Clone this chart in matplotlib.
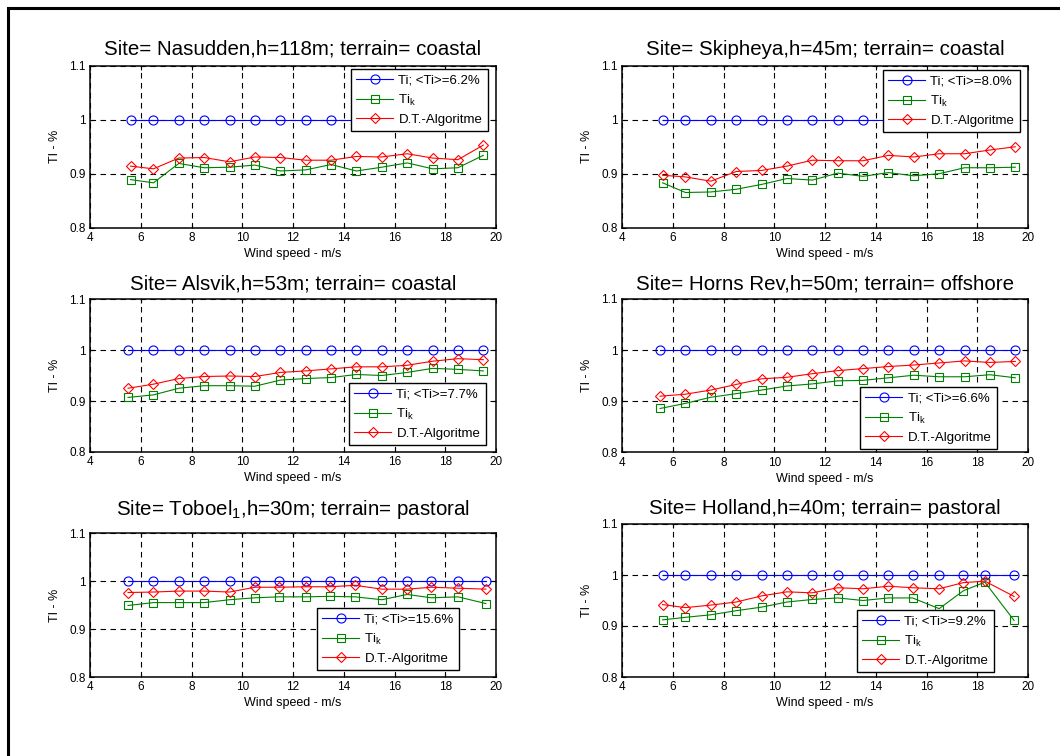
import matplotlib
matplotlib.use('Agg')
import matplotlib.pyplot as plt

plt.rcParams['font.family'] = ['Liberation Sans', 'DejaVu Sans']
plt.rcParams['mathtext.fontset'] = 'custom'
plt.rcParams['mathtext.rm'] = 'Liberation Sans'
plt.rcParams['mathtext.default'] = 'regular'

#------数据-----
# 每个站点: 风速, Ti(归一化), Ti_k, D.T.-Algoritme
titles = ['Site= Nasudden,h=118m; terrain= coastal',
          'Site= Skipheya,h=45m; terrain= coastal',
          'Site= Alsvik,h=53m; terrain= coastal',
          'Site= Horns Rev,h=50m; terrain= offshore',
          'Site= Toboel$_1$,h=30m; terrain= pastoral',
          'Site= Holland,h=40m; terrain= pastoral']
ti_mean = ['6.2%', '8.0%', '7.7%', '6.6%', '15.6%', '9.2%']

ws_nasudden = [5.6, 6.5, 7.5, 8.5, 9.5, 10.5, 11.5, 12.5, 13.5, 14.5, 15.5, 16.5, 17.5, 18.5, 19.5]
ws_skipheya = [5.6, 6.5, 7.5, 8.5, 9.5, 10.5, 11.5, 12.5, 13.5, 14.5, 15.5, 16.5, 17.5, 18.5, 19.5]
ws_alsvik = [5.5, 6.5, 7.5, 8.5, 9.5, 10.5, 11.5, 12.5, 13.5, 14.5, 15.5, 16.5, 17.5, 18.5, 19.5]
ws_hornsrev = [5.5, 6.5, 7.5, 8.5, 9.5, 10.5, 11.5, 12.5, 13.5, 14.5, 15.5, 16.5, 17.5, 18.5, 19.5]
ws_toboel = [5.5, 6.5, 7.5, 8.5, 9.5, 10.5, 11.45, 12.5, 13.45, 14.45, 15.5, 16.5, 17.45, 18.5, 19.6]
ws_holland = [5.6, 6.5, 7.5, 8.5, 9.5, 10.5, 11.5, 12.5, 13.5, 14.5, 15.45, 16.5, 17.45, 18.3, 19.45]

ti_ref = [1.0, 1.0, 1.0, 1.0, 1.0, 1.0, 1.0, 1.0, 1.0, 1.0, 1.0, 1.0, 1.0, 1.0, 1.0]

tik_nasudden = [0.889, 0.883, 0.919, 0.911, 0.912, 0.916, 0.905, 0.907, 0.917, 0.905, 0.912, 0.920, 0.909, 0.911, 0.934]
dt_nasudden = [0.914, 0.909, 0.929, 0.930, 0.922, 0.931, 0.930, 0.925, 0.925, 0.932, 0.931, 0.937, 0.929, 0.926, 0.953]

tik_skipheya = [0.883, 0.865, 0.866, 0.871, 0.880, 0.891, 0.888, 0.901, 0.895, 0.902, 0.896, 0.900, 0.911, 0.911, 0.912]
dt_skipheya = [0.897, 0.894, 0.886, 0.904, 0.906, 0.914, 0.925, 0.924, 0.924, 0.934, 0.931, 0.937, 0.937, 0.944, 0.950]

tik_alsvik = [0.907, 0.912, 0.925, 0.930, 0.930, 0.929, 0.941, 0.944, 0.946, 0.952, 0.950, 0.956, 0.964, 0.962, 0.959]
dt_alsvik = [0.925, 0.933, 0.944, 0.948, 0.949, 0.948, 0.956, 0.959, 0.963, 0.967, 0.967, 0.970, 0.978, 0.983, 0.981]

tik_hornsrev = [0.886, 0.896, 0.908, 0.915, 0.922, 0.930, 0.934, 0.940, 0.941, 0.946, 0.951, 0.948, 0.948, 0.952, 0.946]
dt_hornsrev = [0.910, 0.914, 0.922, 0.933, 0.944, 0.947, 0.954, 0.960, 0.964, 0.968, 0.971, 0.975, 0.979, 0.976, 0.978]

tik_toboel = [0.949, 0.955, 0.955, 0.955, 0.961, 0.965, 0.967, 0.967, 0.968, 0.967, 0.961, 0.972, 0.965, 0.967, 0.953]
dt_toboel = [0.976, 0.977, 0.979, 0.979, 0.977, 0.987, 0.987, 0.988, 0.988, 0.991, 0.983, 0.983, 0.987, 0.985, 0.983]

tik_holland = [0.912, 0.917, 0.922, 0.930, 0.937, 0.947, 0.952, 0.955, 0.950, 0.955, 0.955, 0.934, 0.969, 0.986, 0.911]
dt_holland = [0.942, 0.936, 0.941, 0.947, 0.959, 0.967, 0.965, 0.975, 0.973, 0.978, 0.975, 0.973, 0.985, 0.988, 0.958]

ws_all = [ws_nasudden, ws_skipheya, ws_alsvik, ws_hornsrev, ws_toboel, ws_holland]
tik_all = [tik_nasudden, tik_skipheya, tik_alsvik, tik_hornsrev, tik_toboel, tik_holland]
dt_all = [dt_nasudden, dt_skipheya, dt_alsvik, dt_hornsrev, dt_toboel, dt_holland]

xticks = [4, 6, 8, 10, 12, 14, 16, 18, 20]
yticks = [0.8, 0.9, 1.0, 1.1]
ytick_labels = ['0.8', '0.9', '1', '1.1']

#------布局(像素)-----
W, H = 1060, 756
# left, top, bottom (像素)
boxes = [(90, 66, 227.5), (622, 66, 227.5),
         (90, 299, 452), (622, 299, 452.5),
         (90, 533, 677), (622, 524, 677)]
legpos = [(351, 69), (883, 70), (349, 383), (860, 387), (317, 608), (857, 610)]
title_pad = [8, 8, 7, 7, 13, 7]

fig = plt.figure(figsize=(W / 100, H / 100), dpi=100)

# 外框
fig.patches.append(plt.Rectangle((8 / W, -0.05), 1.2, 1 - 8 / H + 0.05, transform=fig.transFigure,
                                 fill=False, edgecolor='black', linewidth=2.2))

for i in range(6):
    l, t, b = boxes[i]
    ax = fig.add_axes([l / W, 1 - b / H, 406 / W, (b - t) / H])
    ax.set_axisbelow(True)
    ax.plot(ws_all[i], ti_ref, '-o', color='blue', markerfacecolor='none', markersize=6.5,
            linewidth=0.8, markeredgewidth=0.8, label='Ti; <Ti>=' + ti_mean[i])
    ax.plot(ws_all[i], tik_all[i], '-s', color='#008000', markerfacecolor='none', markersize=6,
            linewidth=0.8, markeredgewidth=0.8, label='Ti$_k$')
    ax.plot(ws_all[i], dt_all[i], '-D', color='red', markerfacecolor='none', markersize=5,
            linewidth=0.8, markeredgewidth=0.8, label='D.T.-Algoritme')
    ax.set_xlim(4, 20)
    ax.set_ylim(0.8, 1.1)
    ax.set_xticks(xticks)
    ax.set_yticks(yticks)
    ax.set_yticklabels(ytick_labels)
    ax.tick_params(direction='in', length=3, width=0.8, labelsize=8.5, top=True, right=True, pad=3)
    ax.grid(True, color='black', linestyle=(0, (5, 4)), linewidth=0.8)
    for s in ax.spines.values():
        s.set_linewidth(1.1)
    ax.set_title(titles[i], fontsize=14.8, pad=title_pad[i])
    ax.set_xlabel('Wind speed - m/s', fontsize=9, labelpad=3)
    ax.set_ylabel('TI - %', fontsize=9, labelpad=6)
    lx, ly = legpos[i]
    leg = ax.legend(loc='upper left', bbox_to_anchor=(lx / W, 1 - ly / H), bbox_transform=fig.transFigure,
                    borderaxespad=0, fontsize=9.5, handlelength=2.8, handletextpad=0.4,
                    borderpad=0.4, labelspacing=0.45, fancybox=False, framealpha=1)
    leg.get_frame().set_edgecolor('black')
    leg.get_frame().set_linewidth(1.0)

fig.savefig('out.png', dpi=100)
